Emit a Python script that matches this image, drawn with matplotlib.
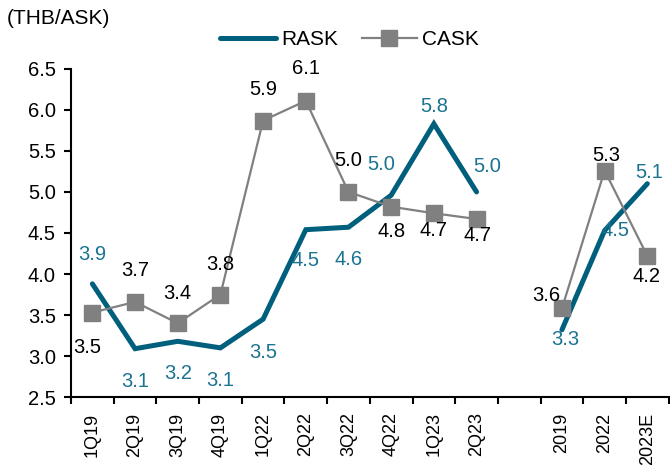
import matplotlib
matplotlib.use("Agg")
import matplotlib.pyplot as plt
import numpy as np

plt.rcParams['font.family'] = ['Liberation Sans', 'DejaVu Sans']

# ---- data ----
quarters = ["1Q19", "2Q19", "3Q19", "4Q19", "1Q22", "2Q22", "3Q22", "4Q22", "1Q23", "2Q23"]
years = ["2019", "2022", "2023E"]
rask_q = [3.88, 3.09, 3.18, 3.10, 3.45, 4.54, 4.57, 4.96, 5.83, 5.00]
cask_q = [3.53, 3.66, 3.40, 3.75, 5.87, 6.11, 5.00, 4.82, 4.74, 4.67]
rask_y = [3.32, 4.53, 5.10]
cask_y = [3.58, 5.26, 4.22]
yticks = [2.5, 3.0, 3.5, 4.0, 4.5, 5.0, 5.5, 6.0, 6.5]

# label offsets (pixels) - styling
rask_q_off = [(0, 29), (0, -33), (0, -32), (0, -33), (0, -33), (0, -31), (0, -32), (-10, 31), (0, 17), (11, 25)]
cask_q_off = [(-5, -35), (0, 31), (0, 30), (0, 30), (0, 31), (0, 32), (0, 31), (0, -25), (0, -17), (1, -16)]
rask_y_off = [(3, -10), (11, 0), (2, 11)]
cask_y_off = [(-16, 13), (2, 15), (-1, -21)]

RASK_C = "#005F7D"
RASK_T = "#1A7391"
CASK_C = "#808080"

n_slots = len(quarters) + 1 + len(years)
xq = np.arange(len(quarters))
xy = np.arange(len(quarters) + 1, n_slots)
labels = quarters + [""] + years

fig = plt.figure(figsize=(6.7, 4.65), dpi=100)
ax = fig.add_axes([0.106, 0.146, 0.892, 0.706])

l1, = ax.plot(xq, rask_q, color=RASK_C, lw=3.6, solid_capstyle='round', solid_joinstyle='miter', label="RASK", zorder=2)
ax.plot(xy, rask_y, color=RASK_C, lw=3.6, solid_capstyle='round', solid_joinstyle='miter', zorder=2)
l2, = ax.plot(xq, cask_q, color=CASK_C, lw=1.6, marker='s', ms=11, mec=CASK_C, mfc=CASK_C, label="CASK", zorder=3)
ax.plot(xy, cask_y, color=CASK_C, lw=1.6, marker='s', ms=11, mec=CASK_C, mfc=CASK_C, zorder=3)

fs = 14.5
for x, v, o in zip(xq, rask_q, rask_q_off):
    ax.annotate(f"{v:.1f}", (x, v), xytext=o, textcoords='offset pixels', ha='center', va='center', color=RASK_T, fontsize=fs, zorder=4)
for x, v, o in zip(xy, rask_y, rask_y_off):
    ax.annotate(f"{v:.1f}", (x, v), xytext=o, textcoords='offset pixels', ha='center', va='center', color=RASK_T, fontsize=fs, zorder=4)
for x, v, o in zip(xq, cask_q, cask_q_off):
    ax.annotate(f"{v:.1f}", (x, v), xytext=o, textcoords='offset pixels', ha='center', va='center', color='black', fontsize=fs, zorder=4)
for x, v, o in zip(xy, cask_y, cask_y_off):
    ax.annotate(f"{v:.1f}", (x, v), xytext=o, textcoords='offset pixels', ha='center', va='center', color='black', fontsize=fs, zorder=4)

ax.set_xlim(-0.5, n_slots - 0.5)
ax.set_ylim(2.5, 6.5)
ax.set_yticks(yticks)
ax.set_yticklabels([f"{t:.1f}" for t in yticks], fontsize=fs)
ax.set_xticks(np.arange(n_slots))
ax.set_xticklabels(labels, rotation=90, fontsize=13)
ax.set_xticks(np.arange(n_slots + 1) - 0.5, minor=True)
ax.tick_params(axis='x', which='major', length=0, pad=11)
ax.tick_params(axis='x', which='minor', length=5, width=1.5, direction='out')
ax.tick_params(axis='y', length=5, width=1.5, direction='out', pad=6)
for s in ['top', 'right']:
    ax.spines[s].set_visible(False)
for s in ['left', 'bottom']:
    ax.spines[s].set_linewidth(1.5)
    ax.spines[s].set_color('black')

fig.text(0.010, 0.961, "(THB/ASK)", fontsize=15, ha='left', va='center')
fig.legend(handles=[l1, l2], loc='center', bbox_to_anchor=(0.522, 0.914), ncol=2, frameon=False,
           fontsize=15, handlelength=2.65, columnspacing=1.15, handletextpad=0.25)

fig.savefig("out.png", dpi=100)
